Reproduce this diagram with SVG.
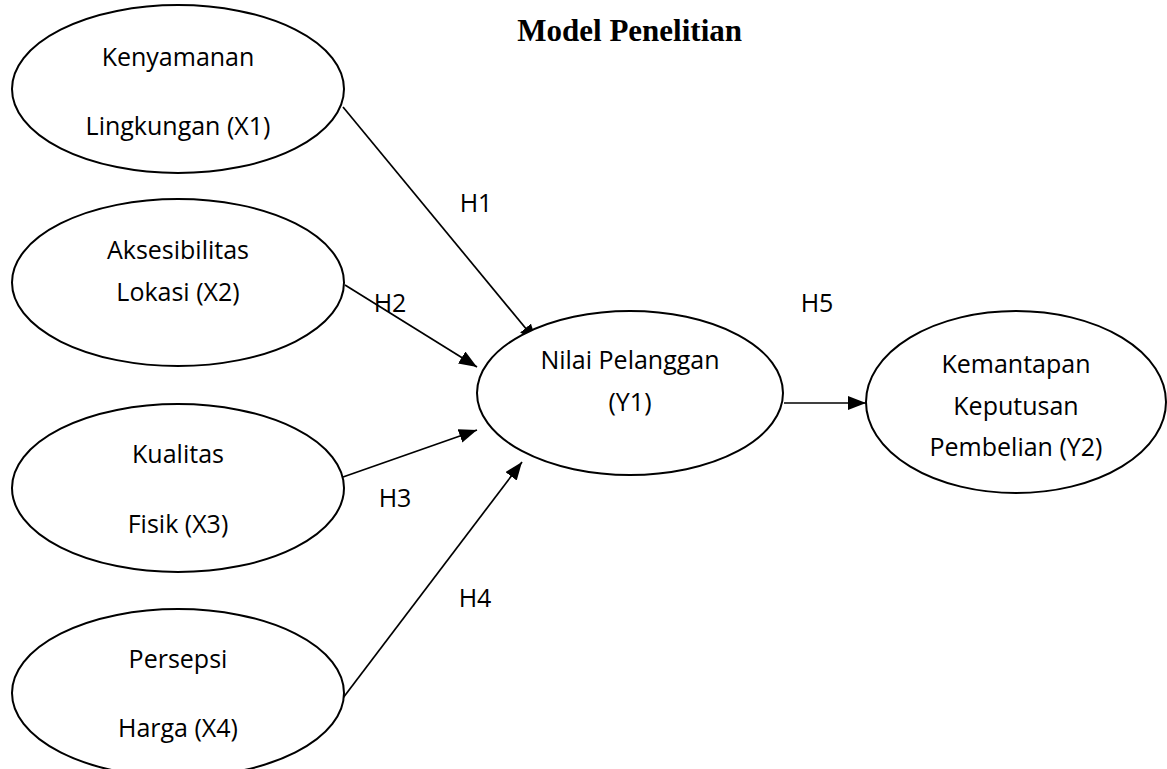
<svg xmlns="http://www.w3.org/2000/svg" width="1167" height="769" viewBox="0 0 1167 769">
<style>
.node ellipse{fill:#fff;stroke:#000;stroke-width:2}
.lbl{font-family:"Open Sans","Liberation Sans",sans-serif;font-size:25px;fill:#000;text-anchor:middle}
.edge line{stroke:#000;stroke-width:1.7;marker-end:url(#ah)}
.title{font-family:"Liberation Serif","Times New Roman",serif;font-size:31px;font-weight:bold;fill:#000}
</style>
<defs>
<marker id="ah" markerUnits="userSpaceOnUse" markerWidth="19" markerHeight="15" refX="18" refY="7" orient="auto">
<path d="M0,0 L18,7 L0,14 z" fill="#000"/>
</marker>
</defs>
<rect width="1167" height="769" fill="#fff"/>
<text class="title" x="742" y="41" text-anchor="end">Model Penelitian</text>
<g id="connectors" class="edge">
<line x1="343" y1="107" x2="537" y2="342"/>
<line x1="345" y1="285" x2="477" y2="367"/>
<line x1="343" y1="477" x2="477" y2="430"/>
<line x1="343" y1="698" x2="522" y2="462"/>
<line x1="784" y1="403" x2="866" y2="403"/>
</g>
<g id="edge-labels">
<text class="lbl" x="476" y="212">H1</text>
<text class="lbl" x="390" y="312">H2</text>
<text class="lbl" x="395" y="507">H3</text>
<text class="lbl" x="475" y="607">H4</text>
<text class="lbl" x="817" y="312">H5</text>
</g>
<g id="X1" class="node">
<ellipse cx="178" cy="89" rx="166" ry="84"/>
<text class="lbl" x="178" y="66">Kenyamanan</text>
<text class="lbl" x="178" y="135">Lingkungan (X1)</text>
</g>
<g id="X2" class="node">
<ellipse cx="178" cy="282.5" rx="166" ry="83.5"/>
<text class="lbl" x="178" y="259">Aksesibilitas</text>
<text class="lbl" x="178" y="301">Lokasi (X2)</text>
</g>
<g id="X3" class="node">
<ellipse cx="178" cy="488" rx="166" ry="84"/>
<text class="lbl" x="178" y="463">Kualitas</text>
<text class="lbl" x="178" y="533">Fisik (X3)</text>
</g>
<g id="X4" class="node">
<ellipse cx="178" cy="693" rx="166" ry="84"/>
<text class="lbl" x="178" y="668">Persepsi</text>
<text class="lbl" x="178" y="737">Harga (X4)</text>
</g>
<g id="Y1" class="node">
<ellipse cx="630" cy="393" rx="153" ry="82"/>
<text class="lbl" x="630" y="369">Nilai Pelanggan</text>
<text class="lbl" x="630" y="411">(Y1)</text>
</g>
<g id="Y2" class="node">
<ellipse cx="1016" cy="402" rx="150" ry="91"/>
<text class="lbl" x="1016" y="373">Kemantapan</text>
<text class="lbl" x="1016" y="415">Keputusan</text>
<text class="lbl" x="1016" y="456">Pembelian (Y2)</text>
</g>
</svg>
